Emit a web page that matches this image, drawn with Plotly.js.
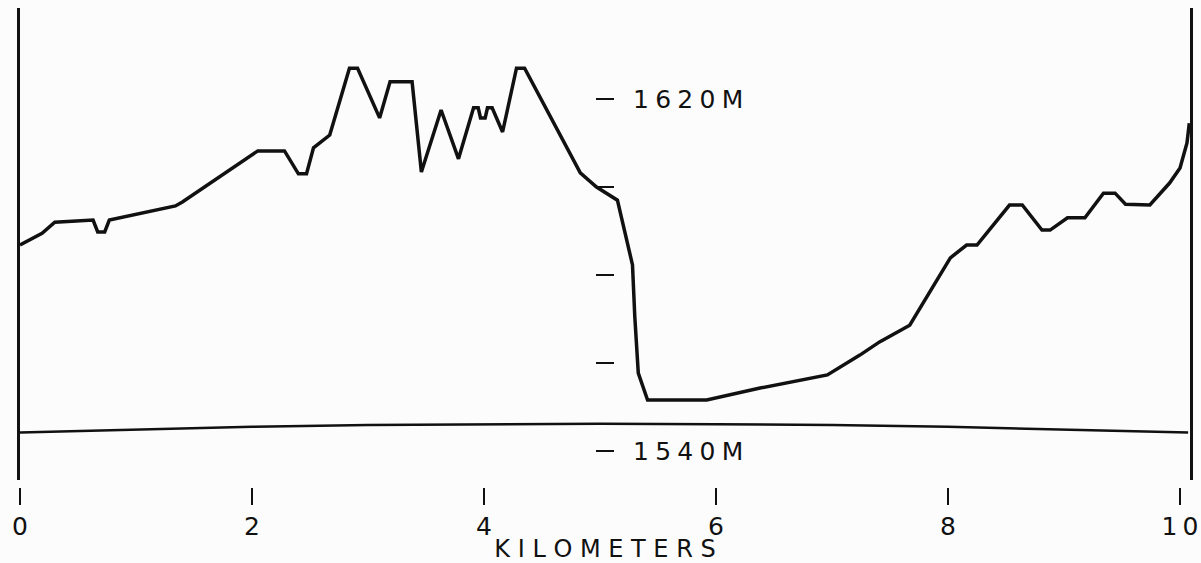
<!DOCTYPE html>
<html>
<head>
<meta charset="utf-8">
<script src="https://cdn.plot.ly/plotly-3.0.1.min.js"></script>
<style>html,body{margin:0;padding:0;background:#fcfcfc;}</style>
</head>
<body>
<div id="chart" style="width:1201px;height:563px;"></div>
<script>
// Terrain profile (distance in km, elevation in m)
const distKm = [0, 0.155, 0.19, 0.30, 0.63, 0.67, 0.73, 0.77, 1.34, 1.40,
  2.05, 2.28, 2.40, 2.47, 2.53, 2.67, 2.84, 2.91, 3.10, 3.19,
  3.38, 3.46, 3.63, 3.78, 3.91, 3.95, 3.97, 4.01, 4.03, 4.07,
  4.16, 4.28, 4.35, 4.83, 4.97, 5.15, 5.22, 5.28, 5.30, 5.33,
  5.41, 5.92, 6.38, 6.96, 7.24, 7.41, 7.67, 8.02, 8.16, 8.25,
  8.53, 8.64, 8.81, 8.88, 9.03, 9.18, 9.34, 9.44, 9.53, 9.74,
  9.91, 10.00, 10.06, 10.08];
const elevM = [1586.8, 1589.1, 1589.5, 1592.0, 1592.5, 1589.8, 1589.8, 1592.5, 1595.7, 1596.6,
  1608.2, 1608.2, 1603.0, 1603.0, 1608.9, 1611.8, 1627.0, 1627.0, 1615.7, 1623.9,
  1623.9, 1603.4, 1617.5, 1606.4, 1618.0, 1618.0, 1615.7, 1615.7, 1618.0, 1618.0,
  1612.5, 1627.0, 1627.0, 1603.2, 1600.0, 1597.0, 1588.6, 1582.3, 1570.5, 1557.7,
  1551.6, 1551.6, 1554.3, 1557.3, 1561.8, 1564.8, 1568.6, 1583.9, 1586.8, 1586.8,
  1595.9, 1595.9, 1590.2, 1590.2, 1593.0, 1593.0, 1598.6, 1598.6, 1596.1, 1595.9,
  1600.9, 1604.3, 1610.0, 1614.5];

// Curved reference baseline
const baseKm = [0, 1, 2, 3, 4, 5, 6, 7, 8, 9, 10.07];
const baseM = [1544.2, 1544.9, 1545.5, 1545.9, 1546.1, 1546.2, 1546.1, 1545.9, 1545.5, 1544.9, 1544.2];

// Tick labels
const xTickVals = [0, 2, 4, 6, 8, 10];
const xTickText = ['0', '2', '4', '6', '8', '1\u20090'];
const yTickVals = [1540, 1560, 1580, 1600, 1620];
const yTickText = ['1\u20055\u20054\u20050\u2005M', '', '', '', '1\u20056\u20052\u20050\u2005M'];
const xTitle = 'K I L O M E T E R S';

const ink = '#111111';
const yRange = [1533.41, 1640.68];

const traces = [
  {x: distKm, y: elevM, type: 'scatter', mode: 'lines', yaxis: 'y',
   line: {color: ink, width: 3.5}, hoverinfo: 'skip'},
  {x: baseKm, y: baseM, type: 'scatter', mode: 'lines', yaxis: 'y2',
   line: {color: ink, width: 2.5}, hoverinfo: 'skip'}
];

const layout = {
  width: 1201, height: 563,
  margin: {l: 20, r: 11, t: 0, b: 76},
  paper_bgcolor: '#fcfcfc', plot_bgcolor: '#fcfcfc',
  showlegend: false,
  font: {family: 'DejaVu Sans', color: ink, size: 25},
  xaxis: {
    range: [0, 10.086], anchor: 'free', position: 0,
    tickvals: xTickVals, ticktext: xTickText,
    ticks: 'outside', ticklen: 17, tickwidth: 2.5, tickcolor: ink,
    showline: false, showgrid: false, zeroline: false,
    tickfont: {size: 25},
    title: {text: xTitle, font: {size: 24}, standoff: 8}
  },
  yaxis: {
    range: yRange, domain: [0.01437, 0.98357],
    showline: true, mirror: true, linewidth: 3, linecolor: ink,
    showgrid: false, zeroline: false, ticks: '', showticklabels: false
  },
  yaxis2: {
    range: yRange, overlaying: 'y', anchor: 'free', position: 0.4915, side: 'right',
    tickvals: yTickVals, ticktext: yTickText,
    ticks: 'outside', ticklen: 18, tickwidth: 2.5, tickcolor: ink,
    showline: false, showgrid: false, zeroline: false,
    ticklabelstandoff: 14,
    tickfont: {size: 25}
  }
};

Plotly.newPlot('chart', traces, layout, {displayModeBar: false, staticPlot: true});
</script>
</body>
</html>
